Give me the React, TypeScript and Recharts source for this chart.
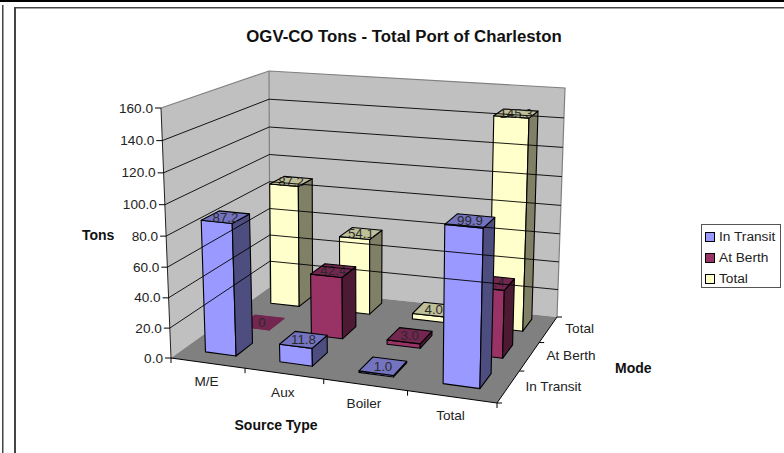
import { BarChart, Bar, XAxis, YAxis, Legend, Customized } from "recharts"

const WIDTH = 784
const HEIGHT = 453
const FONT = "'Liberation Sans', Arial, sans-serif"

const sourceTypes = ["M/E", "Aux", "Boiler", "Total"]
const inTransit = [87.2, 11.8, 1.0, 99.9]
const atBerth = [0, 42.4, 3.0, 45.4]
const totals = [87.2, 54.1, 4.0, 145.3]
const modes = ["In Transit", "At Berth", "Total"]
const valueTicks = [0, 20, 40, 60, 80, 100, 120, 140, 160]

const chartData = sourceTypes.map((name, i) => ({
    name,
    inTransit: inTransit[i],
    atBerth: atBerth[i],
    total: totals[i],
}))

type Pt = [number, number]

// corners of the 3d box as it sits on the page: front-left, front-right, back-right, back-left
const floorQuad: Pt[] = [[171, 358], [497, 403], [557, 317], [270, 287]]
const topQuad: Pt[] = [[161, 108], [504, 135], [565, 88], [269, 71]]

// maps the unit square onto a quad, keeps the perspective foreshortening
const quadMap = (q: Pt[]) => {
    const [p0, p1, p2, p3] = q
    const dx1 = p1[0] - p2[0], dx2 = p3[0] - p2[0], sx = p0[0] - p1[0] + p2[0] - p3[0]
    const dy1 = p1[1] - p2[1], dy2 = p3[1] - p2[1], sy = p0[1] - p1[1] + p2[1] - p3[1]
    const den = dx1 * dy2 - dx2 * dy1
    const g = (sx * dy2 - dx2 * sy) / den
    const h = (dx1 * sy - sx * dy1) / den
    const a = p1[0] - p0[0] + g * p1[0], b = p3[0] - p0[0] + h * p3[0]
    const d = p1[1] - p0[1] + g * p1[1], e = p3[1] - p0[1] + h * p3[1]
    return (u: number, w: number): Pt => {
        const n = g * u + h * w + 1
        return [(a * u + b * w + p0[0]) / n, (d * u + e * w + p0[1]) / n]
    }
}

const onFloor = quadMap(floorQuad)
const onTop = quadMap(topQuad)

// u along source types, v up the value axis, w into the depth; all 0..1
const project = (u: number, v: number, w: number): Pt => {
    const f = onFloor(u, w)
    const t = onTop(u, w)
    const k = v - 0.05 * v * (1 - v)
    return [f[0] + (t[0] - f[0]) * k, f[1] + (t[1] - f[1]) * k]
}

const pts = (list: Pt[]) => list.map(p => `${p[0].toFixed(1)},${p[1].toFixed(1)}`).join(" ")

const rowDepth = (row: number) => (row + 0.5) / modes.length
const HALF_DEPTH = 0.08
const DEPTH_NUDGE = 0.025
const BAND_NUDGE = 0.004

const seriesStyles = [
    { key: "inTransit", name: modes[0], front: "#9999FF", side: "#4D4D80", top: "#7373BF" },
    { key: "atBerth", name: modes[1], front: "#993366", side: "#4D1A33", top: "#732650" },
    { key: "total", name: modes[2], front: "#FFFFCC", side: "#808066", top: "#BFBF99" },
]

const makeBar = (row: number) => (props: any) => {
    const { x, y, width, height, value } = props
    const style = seriesStyles[row]
    const u0 = x / WIDTH + BAND_NUDGE
    const u1 = (x + width) / WIDTH + BAND_NUDGE
    const v = (height <= 0 ? 0 : HEIGHT - y) / HEIGHT
    const w0 = rowDepth(row) + DEPTH_NUDGE - HALF_DEPTH
    const w1 = rowDepth(row) + DEPTH_NUDGE + HALF_DEPTH
    const topFace = [project(u0, v, w0), project(u1, v, w0), project(u1, v, w1), project(u0, v, w1)]
    const mid = project((u0 + u1) / 2, v, (w0 + w1) / 2)
    const raw = Array.isArray(value) ? value[1] - value[0] : value
    const text = raw === 0 ? "0" : Number(raw).toFixed(1)
    return (
        <g stroke={raw === 0 ? style.top : "#000"} strokeWidth={1.1} strokeLinejoin="round">
            <polygon points={pts([project(u0, 0, w0), project(u1, 0, w0), project(u1, v, w0), project(u0, v, w0)])} fill={style.front} />
            <polygon points={pts([project(u1, 0, w0), project(u1, 0, w1), project(u1, v, w1), project(u1, v, w0)])} fill={style.side} />
            <polygon points={pts(topFace)} fill={style.top} />
            <text x={mid[0]} y={mid[1] + 4.5} textAnchor="middle" fontSize={13.3} fontFamily={FONT} fill="#2a2a2a" stroke="none">{text}</text>
        </g>
    )
}

const ValueTick = (props: any) => {
    const { y, payload } = props
    const v = (HEIGHT - y) / HEIGHT
    const front = project(0, v, 0)
    const corner = project(0, v, 1)
    const end = project(1, v, 1)
    return (
        <g>
            {payload.value > 0 && payload.value < 160 && (
                <polyline points={pts([front, corner, end])} fill="none" stroke="#000" strokeWidth={0.9} />
            )}
            <line x1={front[0] - 6} y1={front[1]} x2={front[0]} y2={front[1]} stroke="#000" />
            <text x={front[0] - 8} y={front[1] + 4.5} textAnchor="end" fontSize={13.6} fontFamily={FONT} fill="#222">{payload.value.toFixed(1)}</text>
        </g>
    )
}

const CategoryTick = (props: any) => {
    const { x, payload } = props
    const p = project(x / WIDTH, 0, 0)
    const band = 1 / sourceTypes.length
    const edge = project(band * (payload.index + 1), 0, 0)
    return (
        <g>
            <line x1={edge[0]} y1={edge[1]} x2={edge[0]} y2={edge[1] + 5} stroke="#000" />
            <text x={p[0] - 1} y={p[1] + 23} textAnchor="middle" fontSize={13.6} fontFamily={FONT} fill="#222">{payload.value}</text>
        </g>
    )
}

const Box = () => {
    const [fl, fr, br, bl] = floorQuad
    const tfl = topQuad[0], tbr = topQuad[2], tbl = topQuad[3]
    return (
        <g>
            <polygon points={pts([fl, bl, tbl, tfl])} fill="#C0C0C0" />
            <polygon points={pts([bl, br, tbr, tbl])} fill="#C0C0C0" />
            <polyline points={pts([tfl, tbl, tbr, br])} fill="none" stroke="#808080" strokeWidth={1.2} />
            <line x1={tbl[0]} y1={tbl[1]} x2={bl[0]} y2={bl[1]} stroke="#808080" strokeWidth={1.2} />
            <polygon points={pts([fl, fr, br, bl])} fill="#808080" />
            <line x1={tfl[0]} y1={tfl[1]} x2={fl[0]} y2={fl[1]} stroke="#222" />
            <polyline points={pts([fl, fr, br])} fill="none" stroke="#000" />
            <line x1={fl[0]} y1={fl[1]} x2={fl[0]} y2={fl[1] + 5} stroke="#000" />
        </g>
    )
}

const Furniture = () => {
    const textProps = { fontFamily: FONT, fill: "#111" }
    return (
        <g>
            <rect x={0} y={0} width={WIDTH} height={2} fill="#000" />
            <rect x={2} y={5} width={1.5} height={HEIGHT - 5} fill="#444" />
            <rect x={14} y={7} width={2} height={HEIGHT - 7} fill="#444" />
            <rect x={14} y={7} width={WIDTH - 14} height={1.5} fill="#444" />
            <text x={404} y={42} textAnchor="middle" fontSize={16.8} fontWeight="bold" {...textProps}>OGV-CO Tons - Total Port of Charleston</text>
            <text x={82} y={240} fontSize={14} fontWeight="bold" {...textProps}>Tons</text>
            <text x={276} y={430} textAnchor="middle" fontSize={14} fontWeight="bold" {...textProps}>Source Type</text>
            <text x={615} y={373} fontSize={14} fontWeight="bold" {...textProps}>Mode</text>
            {modes.map((m, i) => {
                const p = project(1, 0, rowDepth(i))
                return <text key={m} x={p[0] + 17} y={p[1] + 4} fontSize={13.6} fontFamily={FONT} fill="#222">{m}</text>
            })}
            {[0, 1, 2, 3].map(i => {
                const p = project(1, 0, i / modes.length)
                return <line key={i} x1={p[0]} y1={p[1]} x2={p[0] + 5} y2={p[1]} stroke="#000" />
            })}
        </g>
    )
}

const LegendBox = () => (
    <div style={{ width: 80, height: 64, boxSizing: "border-box", border: "1px solid #555", background: "#fff", padding: "1px 0 0 3px", fontFamily: FONT, fontSize: 13.7, color: "#222" }}>
        {seriesStyles.map(s => (
            <div key={s.key} style={{ display: "flex", alignItems: "center", height: 21 }}>
                <span style={{ width: 8, height: 8, border: "1px solid #000", background: s.front, marginRight: 4, display: "block", flex: "none", boxSizing: "content-box" }} />
                {s.name}
            </div>
        ))}
    </div>
)

export default function App() {
    return (
        <div style={{ position: "absolute", left: 0, top: 0, width: WIDTH, height: HEIGHT, background: "#fff" }}>
            <BarChart width={WIDTH} height={HEIGHT} data={chartData} margin={{ top: 0, right: 0, bottom: 0, left: 0 }} barCategoryGap="29%">
                <Customized component={Box} />
                <XAxis xAxisId="row0" dataKey="name" height={30} mirror axisLine={false} tickLine={false} interval={0} tick={CategoryTick} />
                <XAxis xAxisId="row1" dataKey="name" hide />
                <XAxis xAxisId="row2" dataKey="name" hide />
                <YAxis width={60} mirror domain={[0, 160]} ticks={valueTicks} interval={0} axisLine={false} tickLine={false} tick={ValueTick} />
                <Bar xAxisId="row2" dataKey="total" isAnimationActive={false} shape={makeBar(2)} />
                <Bar xAxisId="row1" dataKey="atBerth" isAnimationActive={false} shape={makeBar(1)} />
                <Bar xAxisId="row0" dataKey="inTransit" isAnimationActive={false} shape={makeBar(0)} />
                <Customized component={Furniture} />
                <Legend layout="horizontal" verticalAlign="middle" align="center" content={LegendBox} wrapperStyle={{ left: 701, top: 224, width: 80 }} />
            </BarChart>
        </div>
    )
}
